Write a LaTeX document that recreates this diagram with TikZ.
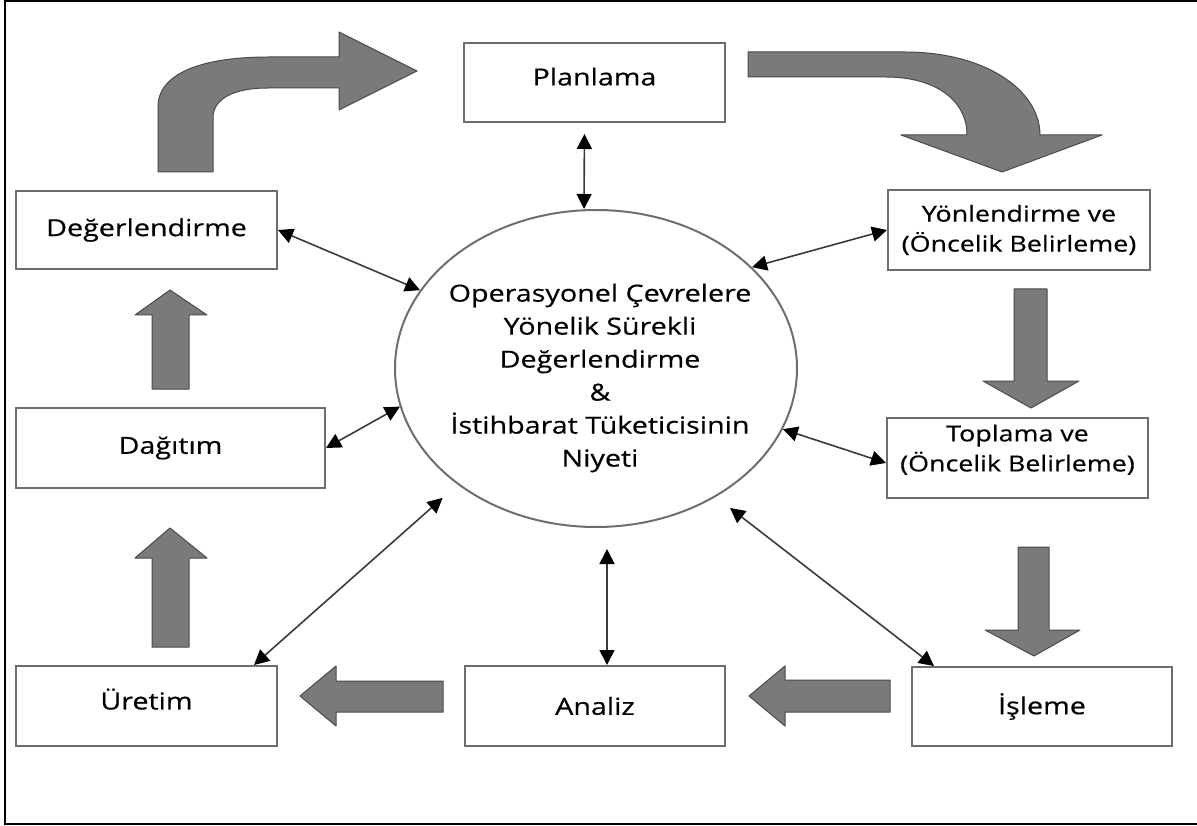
\documentclass[tikz,border=0pt]{standalone}
\usepackage{fontspec}
\setmainfont[FakeStretch=1.22,FakeBold=0.5]{Open Sans}
\usetikzlibrary{arrows.meta,shapes.geometric}

\definecolor{boxline}{HTML}{6E6E6E}
\definecolor{linkline}{HTML}{3A3A3A}
\definecolor{arrowfill}{HTML}{7A7A7A}
\definecolor{arrowedge}{HTML}{4A4A4A}

\tikzset{
  stagebox/.style={draw=boxline, line width=2pt, fill=white, minimum width=261pt,
    minimum height=80pt, inner sep=0pt, align=center, font=\fontsize{23.5}{30}\selectfont},
  twoline/.style={font=\fontsize{22}{30}\selectfont},
  link/.style={draw=linkline, line width=1.6pt,
    {Triangle[length=15pt,width=15pt,color=black]}-{Triangle[length=15pt,width=15pt,color=black]}},
  blockarrow/.style={fill=arrowfill, draw=arrowedge, line width=1pt, line join=round},
}

\begin{document}
\begin{tikzpicture}[x=1pt,y=-1pt]
  \useasboundingbox (0,0) rectangle (1197,826);

  % Frame
  \draw[line width=2pt] (1197,1) -- (5,1) -- (5,824) -- (1197,824);

  % Big curved arrows
  \draw[blockarrow] (158,172) -- (158,107) .. controls (158,70) and (210,57) .. (268,57)
    -- (339,57) -- (339,32) -- (417,71) -- (339,110) -- (339,88) -- (268,88)
    .. controls (235,88) and (213,98) .. (213,118) -- (213,172) -- cycle;
  \draw[blockarrow] (748,52) -- (905,52) .. controls (985,52) and (1040,90) .. (1040,135)
    -- (1102,135) -- (1002,172) -- (901,135) -- (967,135)
    .. controls (967,100) and (935,77) .. (886,77) -- (748,77) -- cycle;

  % Straight arrows
  \draw[blockarrow] (152,389) -- (152,315) -- (135,315) -- (170,290) -- (207,315) -- (189,315) -- (189,389) -- cycle;
  \draw[blockarrow] (152,647) -- (152,558) -- (135,558) -- (170,528) -- (207,558) -- (189,558) -- (189,647) -- cycle;
  \draw[blockarrow] (1014,289) -- (1014,381) -- (983,381) -- (1031,408) -- (1079,381) -- (1047,381) -- (1047,289) -- cycle;
  \draw[blockarrow] (1018,547) -- (1018,630) -- (985,630) -- (1034,656) -- (1080,630) -- (1049,630) -- (1049,547) -- cycle;
  \draw[blockarrow] (890,680) -- (785,680) -- (785,666) -- (749,696) -- (785,726) -- (785,712) -- (890,712) -- cycle;
  \draw[blockarrow] (443,681) -- (336,681) -- (336,666) -- (300,696) -- (336,726) -- (336,712) -- (443,712) -- cycle;

  % Stages
  \node[stagebox, minimum height=79pt, text depth=12pt] (plan) at (594.5,82.5) {Planlama};
  \node[stagebox, minimum height=78pt] (deg) at (146.5,230) {Değerlendirme};
  \node[stagebox, twoline, minimum width=262pt] (yon) at (1019,230) {Yönlendirme ve\\(Öncelik Belirleme)};
  \node[stagebox, minimum width=309pt] (dag) at (170.5,448) {Dağıtım};
  \node[stagebox, twoline, text depth=20pt] (top) at (1017.5,458) {Toplama ve\\(Öncelik Belirleme)};
  \node[stagebox, text depth=14pt] (ure) at (146.5,706) {Üretim};
  \node[stagebox, minimum width=260pt] (ana) at (595,706) {Analiz};
  \node[stagebox, minimum width=260pt, minimum height=79pt] (isl) at (1042,706.5) {İşleme};

  % Centre
  \node[ellipse, draw=boxline, line width=2pt, minimum width=402pt, minimum height=317pt,
    inner sep=0pt] (circ) at (596,368.5) {};
  \node[align=center, font=\fontsize{23.5}{33}\selectfont] (niyet) at (600,378)
    {Operasyonel Çevrelere\\Yönelik Sürekli\\Değerlendirme\\\&\\İstihbarat Tüketicisinin\\Niyeti};

  % Links
  \draw[link, shorten <=11pt] ([xshift=-10pt]plan.south) -- ([xshift=-12pt]circ.north);
  \draw[link] (deg.east) -- (circ.156);
  \draw[link] (yon.west) -- (circ.33);
  \draw[link] (dag.east) -- (circ.191);
  \draw[link] ([yshift=-5pt]top.west) -- (circ.-18);
  \draw[link, shorten >=20pt] ([xshift=-24pt]ure.north east) -- (circ.220);
  \draw[link, shorten >=18pt] ([xshift=23pt]isl.north west) -- (circ.-47);
  \draw[link, shorten >=21pt] ([xshift=12pt]ana.north) -- ([xshift=11pt]circ.south);
\end{tikzpicture}
\end{document}
